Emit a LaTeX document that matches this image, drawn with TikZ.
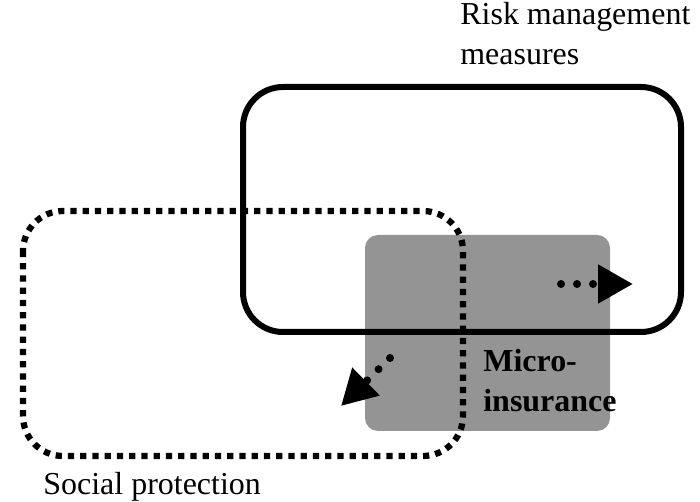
\documentclass[tikz,border=0pt]{standalone}
\usepackage{fontspec}
\setmainfont{Liberation Serif}
\usetikzlibrary{arrows.meta}

\begin{document}
\begin{tikzpicture}[
  x=0.02cm, y=-0.02cm,
  areatext/.style={anchor=base west, align=left, inner sep=0pt, font=\fontsize{18.2}{22.8}\selectfont},
  solidframe/.style={draw=black, line width=0.12cm, rounded corners=0.8cm},
  dotframe/.style={draw=black, line width=0.125cm, dash pattern=on 0.125cm off 0.12cm, rounded corners=0.8cm},
  graybox/.style={fill=black!42, rounded corners=0.26cm},
  dotarrow/.style={draw=black, line width=0.16cm, line cap=round, dash pattern=on 0pt off 0.32cm, -{Triangle[length=0.7cm, width=0.74cm]}},
]
  \useasboundingbox (0,0) rectangle (700,502);

  % Overlap area
  \fill[graybox] (365,235) rectangle (610,431);

  % The two fields
  \draw[dotframe] (23,211) rectangle (463,456);
  \draw[solidframe] (243,87) rectangle (681,332);

  % Labels (base = last line)
  \node[areatext] (risk) at (460,65) {Risk management\\measures};
  \node[areatext] (social) at (43,495) {Social protection};
  \node[areatext, font=\fontsize{18.2}{22.8}\selectfont\bfseries] (micro) at (483,412) {Micro-\\insurance};

  % Arrows out of the overlap
  \coordinate (rstart) at (561,284);
  \coordinate (rend) at (633,284);
  \coordinate (sstart) at (390,358);
  \coordinate (send) at (341,406);
  \draw[dotarrow] (rstart) -- (rend);
  \draw[dotarrow] (sstart) -- (send);
\end{tikzpicture}
\end{document}
